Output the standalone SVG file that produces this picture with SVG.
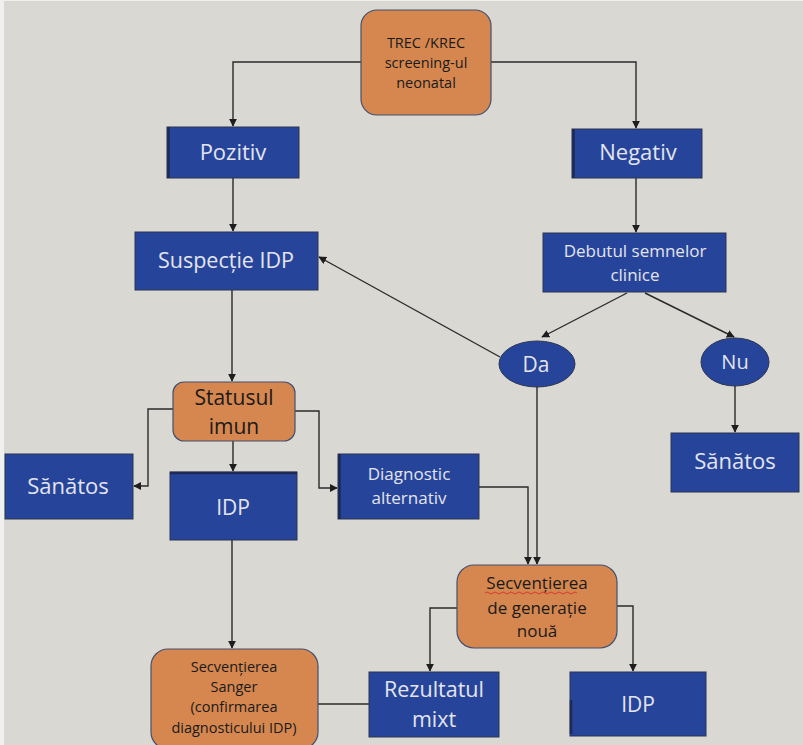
<svg xmlns="http://www.w3.org/2000/svg" width="803" height="745" viewBox="0 0 803 745">
  <defs>
    <marker id="arr" viewBox="0 0 10 10" refX="9" refY="5" markerWidth="8" markerHeight="8" markerUnits="userSpaceOnUse" orient="auto">
      <path d="M0,0 L10,5 L0,10 z" fill="#1e1e1e"/>
    </marker>
    <style>
      .blue { fill: #26459a; stroke: #2c3550; stroke-width: 1; }
      .orange { fill: #d5874f; stroke: #45506e; stroke-width: 1.2; }
      .edge { fill: none; stroke: #1e2a55; stroke-width: 2.5; }
      .wt { font-family: "Open Sans", "Liberation Sans", sans-serif; fill: #e4e4ee; text-anchor: middle; }
      .bk { font-family: "Open Sans", "Liberation Sans", sans-serif; fill: #1a1a1a; text-anchor: middle; }
      .conn path, .conn line { fill: none; stroke: #2a2a2a; stroke-width: 1.4; }
    </style>
  </defs>

  <!-- page -->
  <rect x="0" y="0" width="803" height="745" fill="#f0f0ee"/>
  <rect x="4" y="1" width="799" height="744" fill="#d9d8d3"/>

  <!-- connectors -->
  <g id="connectors" class="conn">
    <path d="M361,62 H233 V126" marker-end="url(#arr)"/>
    <path d="M491,62 H636 V128" marker-end="url(#arr)"/>
    <path d="M233,178 V231" marker-end="url(#arr)"/>
    <path d="M636,178 V232" marker-end="url(#arr)"/>
    <path d="M232,290 V381" marker-end="url(#arr)"/>
    <path d="M627,293 L542,337" marker-end="url(#arr)"/>
    <path d="M645,293 L734,337" marker-end="url(#arr)"/>
    <path d="M500,357 L319,257" marker-end="url(#arr)"/>
    <path d="M735,386 V432" marker-end="url(#arr)"/>
    <path d="M173,409 H148 V486 H134" marker-end="url(#arr)"/>
    <path d="M233,441 V471" marker-end="url(#arr)"/>
    <path d="M295,411 H319 V488 H337" marker-end="url(#arr)"/>
    <path d="M479,487 H528 V564" marker-end="url(#arr)"/>
    <path d="M537,387 V564" marker-end="url(#arr)"/>
    <path d="M232,540 V648" marker-end="url(#arr)"/>
    <path d="M457,608 H430 V671" marker-end="url(#arr)"/>
    <path d="M617,606 H633 V671" marker-end="url(#arr)"/>
    <line x1="318" y1="704" x2="369" y2="704"/>
  </g>

  <!-- nodes -->
  <g id="trec">
    <rect class="orange" x="361" y="10" width="130" height="105" rx="16"/>
    <text class="bk" font-size="14.5"><tspan x="426" y="48">TREC /KREC</tspan><tspan x="426" y="68">screening-ul</tspan><tspan x="426" y="88">neonatal</tspan></text>
  </g>

  <g id="pozitiv">
    <rect class="blue" x="167" y="127" width="132" height="51"/>
    <line class="edge" x1="168.5" y1="127" x2="168.5" y2="178"/>
    <text class="wt" x="233" y="160" font-size="22">Pozitiv</text>
  </g>

  <g id="negativ">
    <rect class="blue" x="572" y="129" width="130" height="49"/>
    <line class="edge" x1="573.5" y1="129" x2="573.5" y2="178"/>
    <text class="wt" x="638" y="160" font-size="22">Negativ</text>
  </g>

  <g id="suspectie">
    <rect class="blue" x="135" y="232" width="183" height="58"/>
    <text class="wt" x="226" y="268" font-size="21.5">Suspecție IDP</text>
  </g>

  <g id="debutul">
    <rect class="blue" x="543" y="233" width="183" height="59"/>
    <text class="wt" font-size="17"><tspan x="635" y="257">Debutul semnelor</tspan><tspan x="635" y="281">clinice</tspan></text>
  </g>

  <g id="da">
    <ellipse class="blue" cx="537" cy="364" rx="38" ry="23"/>
    <text class="wt" x="536" y="372" font-size="21">Da</text>
  </g>

  <g id="nu">
    <ellipse class="blue" cx="735" cy="362" rx="34" ry="24"/>
    <text class="wt" x="735" y="369" font-size="20">Nu</text>
  </g>

  <g id="sanatos-dreapta">
    <rect class="blue" x="671" y="433" width="128" height="59"/>
    <text class="wt" x="735" y="469" font-size="22">Sănătos</text>
  </g>

  <g id="statusul">
    <rect class="orange" x="173" y="382" width="122" height="59" rx="11"/>
    <text class="bk" font-size="21"><tspan x="234" y="405">Statusul</tspan><tspan x="234" y="434">imun</tspan></text>
  </g>

  <g id="sanatos-stanga">
    <rect class="blue" x="5" y="454" width="128" height="65"/>
    <text class="wt" x="68" y="494" font-size="22">Sănătos</text>
  </g>

  <g id="idp-stanga">
    <rect class="blue" x="170" y="472" width="127" height="68"/>
    <line class="edge" x1="170" y1="473" x2="297" y2="473"/>
    <text class="wt" x="233" y="515" font-size="21">IDP</text>
  </g>

  <g id="diagnostic">
    <rect class="blue" x="338" y="454" width="141" height="65"/>
    <line class="edge" x1="339.5" y1="454" x2="339.5" y2="519"/>
    <text class="wt" font-size="17"><tspan x="409" y="480">Diagnostic</tspan><tspan x="409" y="504">alternativ</tspan></text>
  </g>

  <g id="secventiere-ngs">
    <rect class="orange" x="457" y="565" width="160" height="83" rx="17"/>
    <text class="bk" font-size="17"><tspan x="537" y="589">Secvențierea</tspan><tspan x="537" y="614">de generație</tspan><tspan x="537" y="637">nouă</tspan></text>
    <path d="M485,593 q2,-2 4,0 t4,0 t4,0 t4,0 t4,0 t4,0 t4,0 t4,0 t4,0 t4,0 t4,0 t4,0 t4,0 t4,0 t4,0 t4,0 t4,0 t4,0 t4,0 t4,0 t4,0 t4,0 t4,0" fill="none" stroke="#d8312a" stroke-width="0.9"/>
  </g>

  <g id="secventiere-sanger">
    <rect class="orange" x="151" y="649" width="167" height="100" rx="17"/>
    <text class="bk" font-size="14.5"><tspan x="234" y="672">Secvențierea</tspan><tspan x="234" y="692">Sanger</tspan><tspan x="234" y="712">(confirmarea</tspan><tspan x="234" y="733">diagnosticului IDP)</tspan></text>
  </g>

  <g id="rezultatul">
    <rect class="blue" x="369" y="672" width="130" height="65"/>
    <text class="wt" font-size="21.5"><tspan x="434" y="697">Rezultatul</tspan><tspan x="434" y="727">mixt</tspan></text>
  </g>

  <g id="idp-dreapta">
    <rect class="blue" x="570" y="672" width="136" height="64"/>
    <line class="edge" x1="571" y1="700" x2="571" y2="734"/>
    <text class="wt" x="638" y="712" font-size="21">IDP</text>
  </g>
</svg>
